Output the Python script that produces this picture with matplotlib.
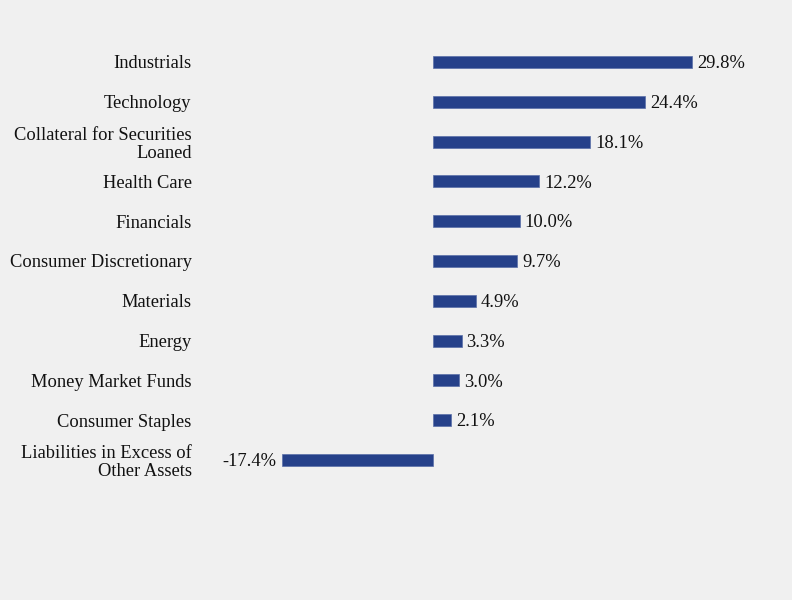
import matplotlib
matplotlib.use("Agg")
import matplotlib.pyplot as plt

categories = ["Industrials", "Technology", "Collateral for Securities\nLoaned", "Health Care",
              "Financials", "Consumer Discretionary", "Materials", "Energy",
              "Money Market Funds", "Consumer Staples", "Liabilities in Excess of\nOther Assets"]
values = [29.8, 24.4, 18.1, 12.2, 10.0, 9.7, 4.9, 3.3, 3.0, 2.1, -17.4]
value_labels = ["29.8%", "24.4%", "18.1%", "12.2%", "10.0%", "9.7%", "4.9%", "3.3%", "3.0%", "2.1%", "-17.4%"]

bg = "#F0F0F0"
bar_color = "#26418A"
plt.rcParams['font.family'] = ['Liberation Serif', 'DejaVu Serif']
fs = 13.3

fig = plt.figure(figsize=(7.92, 6.0), dpi=100, facecolor=bg)
ax = fig.add_axes([200/792, 0.2002, 580/792, 0.7297])
ax.set_facecolor(bg)

ypos = list(range(len(categories)))
ax.barh(ypos, values, height=0.3, color=bar_color, edgecolor="#5A6FA8", linewidth=0.5)
ax.set_xlim(-233/8.69, 347/8.69)
ax.set_ylim(len(categories) - 0.5, -0.5)

for y, v, lab in zip(ypos, values, value_labels):
    if v >= 0:
        ax.annotate(lab, (v, y), xytext=(3.5, -1.2), textcoords="offset points",
                    ha="left", va="center", fontsize=fs, color="#111111")
    else:
        ax.annotate(lab, (v, y), xytext=(-4, -1.2), textcoords="offset points",
                    ha="right", va="center", fontsize=fs, color="#111111")

ax.set_yticks(ypos)
ax.set_yticklabels(categories, fontsize=fs, color="#111111", linespacing=1.1)
ax.tick_params(axis="y", length=0, pad=6)
ax.set_xticks([])
for s in ax.spines.values():
    s.set_visible(False)

fig.savefig("out.png", dpi=100, facecolor=bg)
